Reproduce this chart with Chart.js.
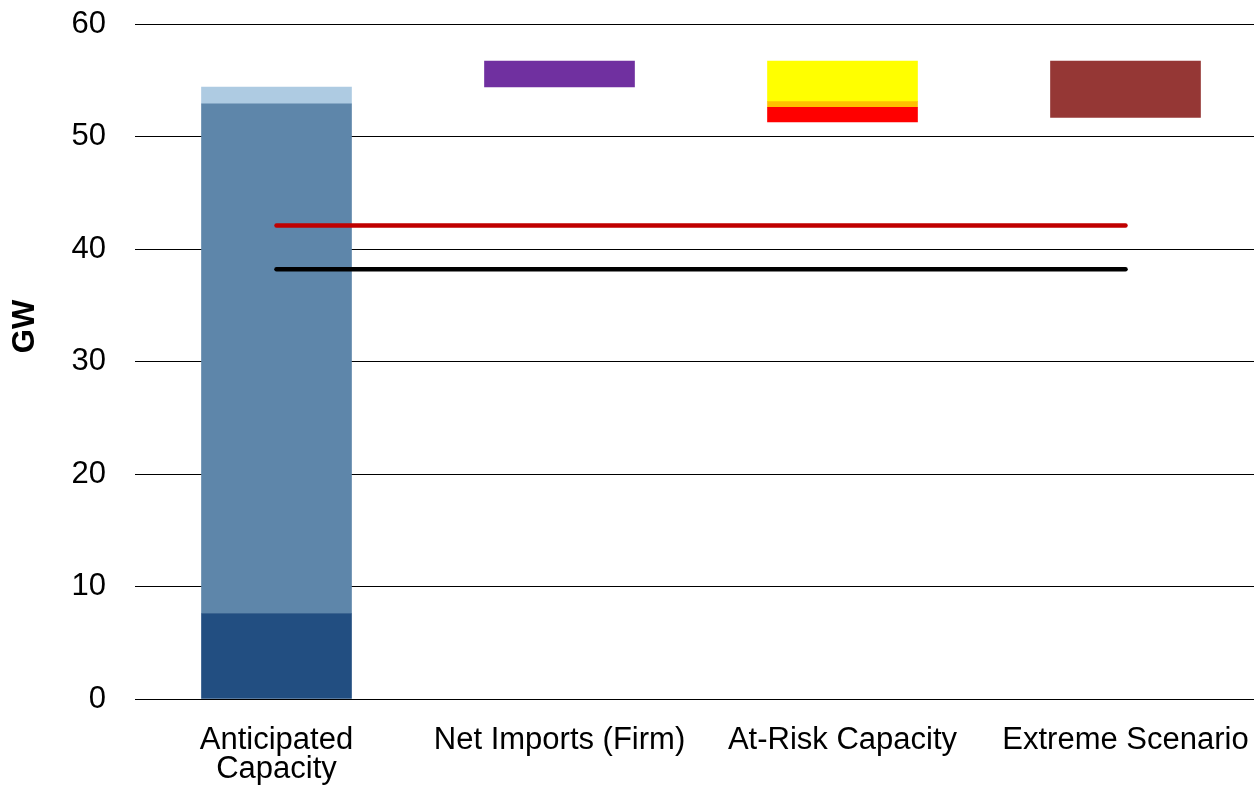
<!DOCTYPE html>
<html>
<head>
<meta charset="utf-8">
<script src="https://cdn.jsdelivr.net/npm/chart.js@4/dist/chart.umd.min.js"></script>
<style>
  html, body { margin: 0; padding: 0; background: #fff; overflow: hidden; }
  #wrap { width: 1267px; height: 792px; }
</style>
</head>
<body>
<div id="wrap"><canvas id="c" width="1267" height="792"></canvas></div>
<script>
// Categories along the x axis
const categories = [['Anticipated', 'Capacity'], 'Net Imports (Firm)', 'At-Risk Capacity', 'Extreme Scenario'];

// Invisible offset that lifts the floating blocks (GW)
const baseOffset = [null, 54.4, 51.3, 51.7];

// Capacity components (GW)
const existingCapacity = [7.6, null, null, null];
const plannedCapacity = [45.3, null, null, null];
const otherCapacity = [1.5, null, null, null];
const netImports = [null, 2.3, null, null];
const atRiskLow = [null, null, 1.3, null];
const atRiskMid = [null, null, 0.5, null];
const atRiskHigh = [null, null, 3.6, null];
const extremeScenario = [null, null, null, 5.0];

// Reference demand lines (GW)
const demandHigh = [42.1, 42.1, 42.1, 42.1];
const demandNormal = [38.2, 38.2, 38.2, 38.2];

// Y axis ticks
const yTicks = [0, 10, 20, 30, 40, 50, 60];

const FONT = 'Liberation Sans, Arial, sans-serif';

function barSet(label, data, color) {
  return { type: 'bar', label, data, backgroundColor: color, borderWidth: 0, stack: 's', order: 2, barThickness: 150 };
}

// Vertical unit label, placed a little above the middle of the value axis
const unitLabel = {
  id: 'unitLabel',
  afterDraw(chart) {
    const { ctx, chartArea } = chart;
    ctx.save();
    ctx.translate(25, (chartArea.top + chartArea.bottom) / 2 - 35);
    ctx.rotate(-Math.PI / 2);
    ctx.font = 'bold 31px ' + FONT;
    ctx.fillStyle = '#000';
    ctx.textAlign = 'center';
    ctx.textBaseline = 'middle';
    ctx.fillText('GW', 0, 0);
    ctx.restore();
  }
};

new Chart(document.getElementById('c'), {
  plugins: [unitLabel],
  data: {
    labels: categories,
    datasets: [
      { type: 'line', label: 'Demand (extreme)', data: demandHigh, borderColor: '#C00000', borderWidth: 4.5,
        borderCapStyle: 'round', pointRadius: 0, fill: false, order: 0, stack: 'l1' },
      { type: 'line', label: 'Demand', data: demandNormal, borderColor: '#000000', borderWidth: 4.5,
        borderCapStyle: 'round', pointRadius: 0, fill: false, order: 0, stack: 'l2' },
      barSet('Offset', baseOffset, 'rgba(0,0,0,0)'),
      barSet('Existing', existingCapacity, '#224E81'),
      barSet('Planned', plannedCapacity, '#5E86AA'),
      barSet('Other', otherCapacity, '#AECBE2'),
      barSet('Net Imports', netImports, '#7030A0'),
      barSet('At-Risk (low)', atRiskLow, '#FF0000'),
      barSet('At-Risk (mid)', atRiskMid, '#FFC000'),
      barSet('At-Risk (high)', atRiskHigh, '#FFFF00'),
      barSet('Extreme Scenario', extremeScenario, '#953735')
    ]
  },
  options: {
    responsive: false,
    animation: false,
    layout: { padding: { top: 24, left: 0, right: 0, bottom: 0 } },
    plugins: { legend: { display: false }, tooltip: { enabled: false } },
    scales: {
      x: {
        stacked: true,
        grid: { display: false, drawTicks: false },
        border: { display: false },
        ticks: { color: '#000', padding: 27, maxRotation: 0, autoSkip: false,
                 font: { family: FONT, size: 31, lineHeight: '29px' } },
        afterFit: (s) => { s.height = 93; s.paddingLeft = 0; s.paddingRight = 0; }
      },
      y: {
        stacked: true,
        min: 0, max: 60,
        afterBuildTicks: (s) => { s.ticks = yTicks.map(v => ({ value: v })); },
        grid: { color: '#000', lineWidth: 1, drawTicks: false },
        border: { display: false },
        ticks: { color: '#000', padding: 29, font: { family: FONT, size: 31 } },
        title: { display: false },
        afterFit: (s) => { s.width = 135; s.paddingTop = 0; s.paddingBottom = 0; }
      }
    }
  }
});
</script>
</body>
</html>
